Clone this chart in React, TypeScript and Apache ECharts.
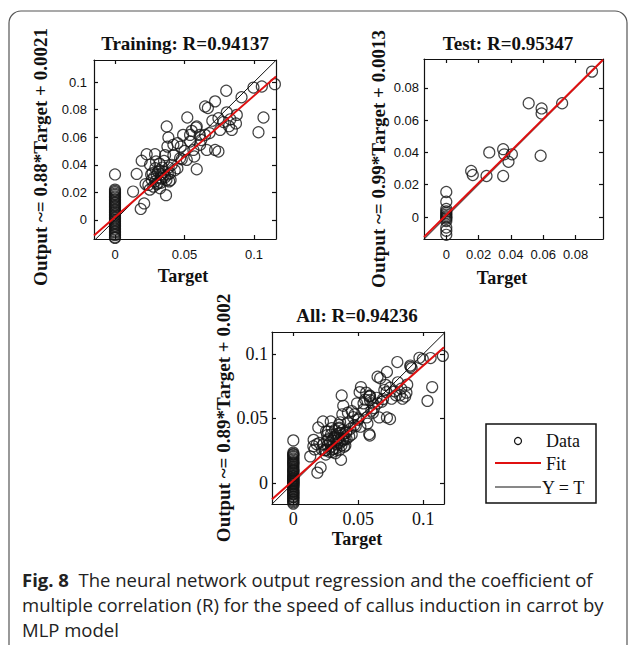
import React, { useEffect, useRef } from "react";
import * as echarts from "echarts";

// ---------- DATA ----------
const trainZeroOutputs = [
  -0.013, -0.0125, -0.011, -0.0102, -0.009, -0.0082, -0.007, -0.0062, -0.005, -0.0041, -0.003, -0.0022,
  -0.001, 0, 0.0011, 0.002, 0.0031, 0.004, 0.0052, 0.006, 0.0071, 0.008, 0.0092, 0.0101, 0.011, 0.0122,
  0.013, 0.0141, 0.015, 0.0162, 0.017, 0.0181, 0.019, 0.0201, 0.021, 0.022, 0.033,
];
const trainTargets = [
  0.013, 0.0185, 0.021, 0.0156, 0.0192, 0.0228, 0.0288, 0.0372, 0.0384, 0.0377, 0.0367, 0.0252, 0.029, 0.032,
  0.03, 0.0264, 0.024, 0.0276, 0.031, 0.0336, 0.0348, 0.0396, 0.0408, 0.0324, 0.036, 0.042, 0.0449, 0.0468,
  0.049, 0.052, 0.0552, 0.0583, 0.054, 0.0516, 0.0588, 0.0564, 0.0612, 0.0648, 0.066, 0.072, 0.0744, 0.0668,
  0.072, 0.0744, 0.08, 0.0804, 0.0876, 0.084, 0.087, 0.0756, 0.0996, 0.1056, 0.115, 0.1068, 0.1032, 0.0295,
  0.0353, 0.0386, 0.042, 0.0449, 0.0473, 0.054, 0.0588, 0.061, 0.0648, 0.028, 0.033, 0.035, 0.037, 0.031,
  0.027, 0.034, 0.038, 0.025, 0.022, 0.029, 0.033, 0.04, 0.043, 0.048, 0.05, 0.057, 0.062, 0.068, 0.07,
  0.078, 0.082, 0.091, 0.083, 0.026, 0.03, 0.032, 0.036, 0.039,
];
const trainOutputs = [
  0.0206, 0.008, 0.012, 0.0334, 0.043, 0.0477, 0.0477, 0.0678, 0.0598, 0.0532, 0.018, 0.04, 0.0375, 0.041,
  0.0327, 0.029, 0.0254, 0.0242, 0.0266, 0.03, 0.035, 0.0339, 0.04, 0.023, 0.047, 0.047, 0.0375, 0.0448,
  0.0617, 0.0743, 0.0646, 0.067, 0.0569, 0.0436, 0.0368, 0.0508, 0.0545, 0.0823, 0.0508, 0.0508, 0.0496, 0.0812,
  0.086, 0.0738, 0.0937, 0.078, 0.0762, 0.0653, 0.07, 0.0653, 0.096, 0.0968, 0.0985, 0.0743, 0.0636, 0.0424,
  0.0428, 0.038, 0.0545, 0.0557, 0.0532, 0.0617, 0.0678, 0.0617, 0.0617, 0.031, 0.027, 0.032, 0.029, 0.035,
  0.034, 0.038, 0.033, 0.022, 0.026, 0.028, 0.033, 0.029, 0.036, 0.044, 0.05, 0.046, 0.058, 0.063, 0.072,
  0.071, 0.068, 0.089, 0.073, 0.033, 0.026, 0.036, 0.031, 0.028,
];

const testZeroOutputs = [0.0155, 0.0095, 0.005, 0.0035, 0.0025, 0.0015, 0.0005, -0.0003, -0.001, -0.0025, -0.0065, -0.0085, -0.011];
const testTargets = [0.0154, 0.0164, 0.0249, 0.0266, 0.0352, 0.0359, 0.0406, 0.0385, 0.0352, 0.051, 0.059, 0.059, 0.0717, 0.0584, 0.0902];
const testOutputs = [0.0285, 0.026, 0.0254, 0.04, 0.042, 0.0388, 0.0388, 0.0342, 0.0254, 0.0704, 0.0672, 0.0641, 0.0704, 0.0379, 0.09];

const valZeroOutputs = [-0.016, -0.015, -0.014, 0.0225, 0.0235];
const valTargets = [0.02, 0.026, 0.03, 0.035, 0.041, 0.046, 0.05, 0.056, 0.06, 0.064, 0.071, 0.079, 0.09, 0.097, 0.018, 0.023, 0.038, 0.044, 0.069, 0.086];
const valOutputs = [0.031, 0.037, 0.024, 0.045, 0.034, 0.051, 0.049, 0.07, 0.056, 0.066, 0.076, 0.068, 0.091, 0.097, 0.03, 0.03, 0.041, 0.042, 0.065, 0.067];

// fit coefficients (slope, intercept)
const trainFit = [0.88, 0.0021];
const testFit = [0.99, 0.0013];
const allFit = [0.89, 0.002];

// axis ranges [xmin, xmax, ymin, ymax] and tick values
const trainRange = [-0.0151, 0.1158, -0.0138, 0.116];
const testRange = [-0.0138, 0.097, -0.0136, 0.0978];
const allRange = [-0.0164, 0.1159, -0.0163, 0.117];
const trainXTicks = [0, 0.05, 0.1];
const trainYTicks = [0, 0.02, 0.04, 0.06, 0.08, 0.1];
const testXTicks = [0, 0.02, 0.04, 0.06, 0.08];
const testYTicks = [0, 0.02, 0.04, 0.06, 0.08];
const allXTicks = [0, 0.05, 0.1];
const allYTicks = [0, 0.05, 0.1];

const titles = ["Training: R=0.94137", "Test: R=0.95347", "All: R=0.94236"];
const yNames = ["Output ~= 0.88*Target + 0.0021", "Output ~= 0.99*Target + 0.0013", "Output ~= 0.89*Target + 0.002"];
const legendNames = ["Data", "Fit", "Y = T"];
const captionLines = [
  "The neural network output regression and the coefficient of",
  "multiple correlation (R) for the speed of callus induction in carrot by",
  "MLP model",
];

// ---------- helpers ----------
const pairs = (zeros: number[], xs: number[], ys: number[]) =>
  zeros.map((y) => [0, y]).concat(xs.map((x, i) => [x, ys[i]]));

const trainPts = pairs(trainZeroOutputs, trainTargets, trainOutputs);
const testPts = pairs(testZeroOutputs, testTargets, testOutputs);
const valPts = pairs(valZeroOutputs, valTargets, valOutputs);
const allPts = trainPts.concat(valPts, testPts);

const fmt = (v: number) => String(parseFloat(Number(v).toFixed(4)));

const SERIF = "Liberation Serif, Times New Roman, serif";
const SANS = "Liberation Sans, Arial, sans-serif";
const CAP = "Open Sans, Noto Sans, sans-serif";

function axesFor(grid: number, min: number, max: number, ticks: number[], font: any, margin: number, isX: boolean) {
  const base = {
    gridIndex: grid,
    type: "value",
    min,
    max,
    scale: true,
    splitLine: { show: false },
    axisLine: { show: true, onZero: false, lineStyle: { color: "#111", width: 1.2 } },
    axisTick: { show: true, inside: true, length: 4, customValues: ticks, lineStyle: { color: "#111", width: 1.2 } },
  };
  return [
    {
      ...base,
      position: isX ? "bottom" : "left",
      axisLabel: { show: true, customValues: ticks, formatter: (v: number) => fmt(v), margin, color: "#111", ...font },
    },
    {
      ...base,
      position: isX ? "top" : "right",
      axisLabel: { show: false },
    },
  ];
}

const labelSans = { fontFamily: SANS, fontSize: 13 };
const labelSerif = { fontFamily: SERIF, fontSize: 18 };

const grids = [
  { left: 94, top: 60, width: 182, height: 179 },
  { left: 424, top: 59, width: 179, height: 180 },
  { left: 272, top: 332, width: 172, height: 172 },
];

function seriesFor(i: number, pts: number[][], fit: number[], r: number[]) {
  const [x0, x1] = [r[0], r[1]];
  return [
    {
      type: "scatter",
      name: "Data",
      xAxisIndex: 2 * i,
      yAxisIndex: 2 * i,
      data: pts,
      symbol: "circle",
      symbolSize: 11,
      itemStyle: { color: "rgba(0,0,0,0)", borderColor: "#151515", borderWidth: 1.2 },
      z: 2,
    },
    {
      type: "line",
      name: "Y = T",
      xAxisIndex: 2 * i,
      yAxisIndex: 2 * i,
      data: [
        [x0, x0],
        [x1, x1],
      ],
      showSymbol: false,
      clip: true,
      lineStyle: { color: "#111", width: 1 },
      z: 3,
    },
    {
      type: "line",
      name: "Fit",
      xAxisIndex: 2 * i,
      yAxisIndex: 2 * i,
      data: [
        [x0, fit[0] * x0 + fit[1]],
        [x1, fit[0] * x1 + fit[1]],
      ],
      showSymbol: false,
      clip: true,
      lineStyle: { color: "#e01010", width: 2 },
      z: 4,
    },
  ];
}

const boldSerif = (size: number) => ({ fontFamily: SERIF, fontWeight: "bold", fontSize: size, fill: "#111" });

function textEl(text: string, x: number, y: number, style: any, rotation = 0, align = "center") {
  return {
    type: "text",
    x,
    y,
    rotation,
    style: { text, align, verticalAlign: "middle", ...style },
    z: 10,
  };
}

export default function App() {
  const ref = useRef<HTMLDivElement>(null);
  useEffect(() => {
    if (!ref.current) return;
    const chart = echarts.init(ref.current, undefined, { renderer: "svg" });
    const xAxis = [
      ...axesFor(0, trainRange[0], trainRange[1], trainXTicks, labelSans, 9, true),
      ...axesFor(1, testRange[0], testRange[1], testXTicks, labelSans, 9, true),
      ...axesFor(2, allRange[0], allRange[1], allXTicks, labelSerif, 6, true),
    ];
    const yAxis = [
      ...axesFor(0, trainRange[2], trainRange[3], trainYTicks, labelSans, 7, false),
      ...axesFor(1, testRange[2], testRange[3], testYTicks, labelSans, 5, false),
      ...axesFor(2, allRange[2], allRange[3], allYTicks, labelSerif, 4, false),
    ];
    const series = [
      ...seriesFor(0, trainPts, trainFit, trainRange),
      ...seriesFor(1, testPts, testFit, testRange),
      ...seriesFor(2, allPts, allFit, allRange),
    ];
    const capStyle = { fontFamily: CAP, fontSize: 18.5, fill: "#222" };
    const graphic: any[] = [
      {
        type: "rect",
        shape: { x: 9, y: 11, width: 618, height: 700, r: 12 },
        style: { fill: "none", stroke: "#555", lineWidth: 1.2 },
        z: 0,
      },
      textEl(titles[0], 185, 43, boldSerif(19)),
      textEl(titles[1], 508, 43, boldSerif(19)),
      textEl(titles[2], 357, 315, boldSerif(19)),
      textEl(yNames[0], 40, 157, boldSerif(19), Math.PI / 2),
      textEl(yNames[1], 378, 159, boldSerif(19), Math.PI / 2),
      textEl(yNames[2], 223, 418, boldSerif(19), Math.PI / 2),
      textEl("Target", 183, 276, boldSerif(18)),
      textEl("Target", 502, 278, boldSerif(18)),
      textEl("Target", 357, 539, boldSerif(18)),
      // legend
      {
        type: "rect",
        shape: { x: 486, y: 424, width: 110, height: 79 },
        style: { fill: "#fff", stroke: "#111", lineWidth: 1.5 },
        z: 10,
      },
      { type: "circle", shape: { cx: 518, cy: 441, r: 3.5 }, style: { fill: "none", stroke: "#111", lineWidth: 1.2 }, z: 11 },
      { type: "line", shape: { x1: 495, y1: 463, x2: 541, y2: 463 }, style: { stroke: "#e01010", lineWidth: 2 }, z: 11 },
      { type: "line", shape: { x1: 495, y1: 487, x2: 541, y2: 487 }, style: { stroke: "#111", lineWidth: 1 }, z: 11 },
      textEl(legendNames[0], 546, 441, { fontFamily: SERIF, fontSize: 18, fill: "#111" }, 0, "left"),
      textEl(legendNames[1], 546, 464, { fontFamily: SERIF, fontSize: 18, fill: "#111" }, 0, "left"),
      textEl(legendNames[2], 542, 488, { fontFamily: SERIF, fontSize: 18, fill: "#111" }, 0, "left"),
      // caption
      {
        type: "text",
        x: 22,
        y: 579,
        style: {
          text: "{b|Fig. 8}  " + captionLines[0],
          verticalAlign: "middle",
          ...capStyle,
          rich: { b: { fontFamily: CAP, fontWeight: "bold", fontSize: 18.5, fill: "#222" } },
        },
        z: 10,
      },
      textEl(captionLines[1], 22, 604, capStyle, 0, "left"),
      textEl(captionLines[2], 22, 629, capStyle, 0, "left"),
    ];
    chart.setOption({
      animation: false,
      backgroundColor: "#fff",
      grid: grids,
      xAxis,
      yAxis,
      series,
      graphic,
    });
    return () => chart.dispose();
  }, []);
  return <div ref={ref} style={{ position: "fixed", left: 0, top: 0, width: 630, height: 645 }} />;
}
